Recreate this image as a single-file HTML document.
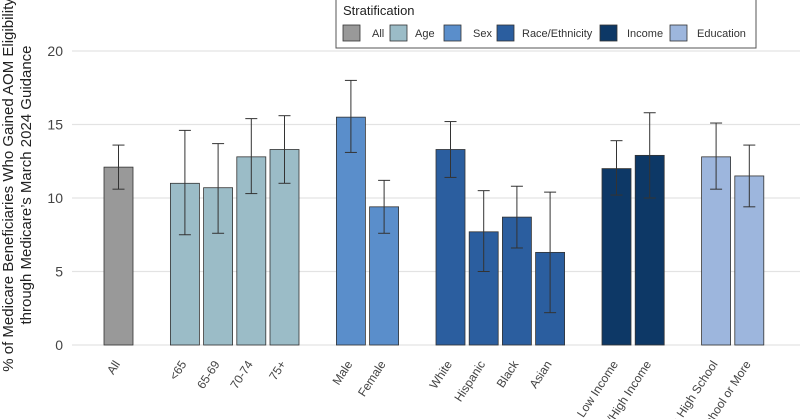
<!DOCTYPE html>
<html><head><meta charset="utf-8"><style>
html,body{margin:0;background:#fff;width:800px;height:419px;overflow:hidden;}
svg{display:block;font-family:"Liberation Sans",sans-serif;}
</style></head><body>
<svg id="chart" width="800" height="419" viewBox="0 0 800 419">
<g id="grid"></g>
<g id="bars"></g>
<g id="xlabels"></g>
<g font-size="15" fill="#222" text-anchor="middle">
<text transform="translate(13,185) rotate(-90)">% of Medicare Beneficiaries Who Gained AOM Eligibility</text>
<text transform="translate(31,185) rotate(-90)">through Medicare’s March 2024 Guidance</text>
</g>
<g>
<rect x="336" y="-2" width="420" height="50" fill="#fff" stroke="#555" stroke-width="1"/>
<text x="343" y="15" font-size="13" fill="#222">Stratification</text>
<g id="legend-items"></g>
</g>
</svg>
<script>
const categories=["All","<65","65-69","70-74","75+","Male","Female","White","Hispanic","Black","Asian","Low Income","Mid/High Income","Less than High School","High School or More"];
const slots=[0,2,3,4,5,7,8,10,11,12,13,15,16,18,19];
const groups=["All","Age","Age","Age","Age","Sex","Sex","Race/Ethnicity","Race/Ethnicity","Race/Ethnicity","Race/Ethnicity","Income","Income","Education","Education"];
const values=[12.1,11.0,10.7,12.8,13.3,15.5,9.4,13.3,7.7,8.7,6.3,12.0,12.9,12.8,11.5];
const lower=[10.6,7.5,7.6,10.3,11.0,13.1,7.6,11.4,5.0,6.6,2.2,10.2,10.0,10.6,9.4];
const upper=[13.6,14.6,13.7,15.4,15.6,18.0,11.2,15.2,10.5,10.8,10.4,13.9,15.8,15.1,13.6];
const yTicks=[0,5,10,15,20];
const legendNames=["All","Age","Sex","Race/Ethnicity","Income","Education"];
const colors={"All":"#999999","Age":"#9bbcc7","Sex":"#5a8ecb","Race/Ethnicity":"#2b5e9f","Income":"#0d3866","Education":"#9db6dd"};
const NS="http://www.w3.org/2000/svg";
const y=v=>345-v*14.7;
const x=s=>118.5+s*33.2;
function mk(t,a,p){const e=document.createElementNS(NS,t);for(const k in a)e.setAttribute(k,a[k]);p.appendChild(e);return e;}
const grid=document.getElementById('grid');
yTicks.forEach(t=>{
 const l=mk('line',{x1:72,x2:800,y1:y(t),y2:y(t),stroke:'#e3e3e3','stroke-width':1.2},grid);
 
 
 const tx=mk('text',{x:63,y:y(t)+5,'text-anchor':'end','font-size':14,fill:'#444'},grid);
 tx.textContent=t;
 
 
});
const bars=document.getElementById('bars'),xl=document.getElementById('xlabels');
categories.forEach((c,i)=>{
 const cx=x(slots[i]);
 const r=mk('rect',{x:cx-14.5,y:y(values[i]),width:29,height:y(0)-y(values[i]),fill:colors[groups[i]],stroke:'#333','stroke-width':0.8},bars);
 
 
 const g=mk('g',{stroke:'#333','stroke-width':1},bars);
 
 
 mk('line',{x1:cx,x2:cx,y1:y(lower[i]),y2:y(upper[i])},g);
 mk('line',{x1:cx-6,x2:cx+6,y1:y(lower[i]),y2:y(lower[i])},g);
 mk('line',{x1:cx-6,x2:cx+6,y1:y(upper[i]),y2:y(upper[i])},g);
 const t=mk('text',{transform:`translate(${cx+2},364) rotate(-57)`,'text-anchor':'end','font-size':12,fill:'#444'},xl);
 t.textContent=c;
 
 
});
const li=document.getElementById('legend-items');
const lx=[343,390,444,497,600,670];
const tx=[372,415,473,522,627,697];
legendNames.forEach((n,i)=>{
 const g=mk('g',{},li);
 
 
 mk('rect',{x:lx[i],y:25,width:17,height:16,fill:colors[n],stroke:'#333','stroke-width':0.8},g);
 const t=mk('text',{x:tx[i],y:37,'font-size':11,fill:'#333'},g);
 t.textContent=n;
});
</script>
</body></html>
